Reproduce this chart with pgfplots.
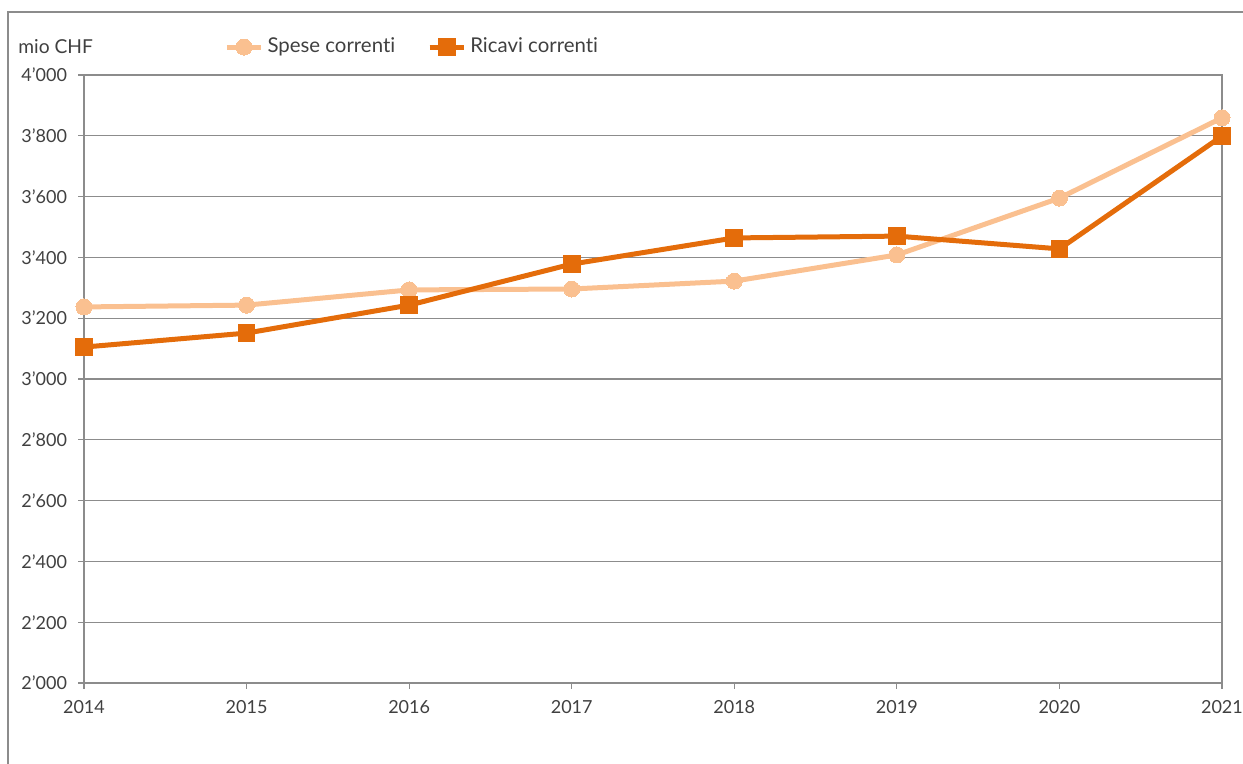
\documentclass[border=0pt]{standalone}
\usepackage{fontspec}
\setmainfont{Lato}[Ligatures={NoCommon}]
\usepackage{pgfplots}
\pgfplotsset{compat=1.18}
\definecolor{spese}{HTML}{FAC090}
\definecolor{ricavi}{HTML}{E46C0A}
\definecolor{axgray}{HTML}{8C8C8C}
\definecolor{txt}{HTML}{404040}
\begin{document}
\begin{tikzpicture}[x=1pt,y=1pt]
\useasboundingbox (-42,-40.5) rectangle (579.5,341.5);
\draw[axgray, line width=1pt] (-38,-45) -- (-38,335.5) -- (585,335.5);
\node[anchor=west, text=txt, font=\fontsize{9.6}{11}\selectfont, inner sep=0pt] at (-33,318) {mio CHF};
\begin{axis}[
  at={(0,0)}, anchor=south west,
  width=569pt, height=304pt, scale only axis,
  xmin=2014, xmax=2021, ymin=2000, ymax=4000,
  xtick={2014,2015,2016,2017,2018,2019,2020,2021},
  xticklabels={2014,2015,2016,2017,2018,2019,2020,2021},
  ytick={2000,2200,2400,2600,2800,3000,3200,3400,3600,3800,4000},
  yticklabels={2'000,2'200,2'400,2'600,2'800,3'000,3'200,3'400,3'600,3'800,4'000},
  ymajorgrids,
  major grid style={axgray, line width=0.6pt},
  axis line style={axgray, line width=0.8pt},
  tick style={axgray, line width=0.6pt},
  tick align=outside, tick pos=left, major tick length=3pt,
  ticklabel style={font=\fontsize{9}{10}\selectfont, text=txt},
  xticklabel style={yshift=-2pt},
  yticklabel style={xshift=-2pt},
  clip=false,
  legend columns=2,
  legend style={draw=none, fill=none, at={(0.123,1.046)}, anchor=west,
    font=\fontsize{10.2}{12}\selectfont, text=txt, inner sep=0pt,
    /tikz/every odd column/.append style={column sep=0pt},
    /tikz/every even column/.append style={column sep=14pt}},
  legend cell align=left,
]
\addplot[spese, line width=2.5pt, mark=*, mark size=4pt, mark options={fill=spese, draw=spese, line width=0pt}]
coordinates {(2014,3237) (2015,3243) (2016,3293) (2017,3296) (2018,3322) (2019,3408) (2020,3595) (2021,3859)};
\addlegendentry{Spese correnti}
\addplot[ricavi, line width=2.5pt, mark=square*, mark size=4.2pt, mark options={fill=ricavi, draw=ricavi, line width=0pt}]
coordinates {(2014,3105) (2015,3151) (2016,3243) (2017,3378) (2018,3464) (2019,3470) (2020,3428) (2021,3799)};
\addlegendentry{Ricavi correnti}
\end{axis}
\end{tikzpicture}
\end{document}
